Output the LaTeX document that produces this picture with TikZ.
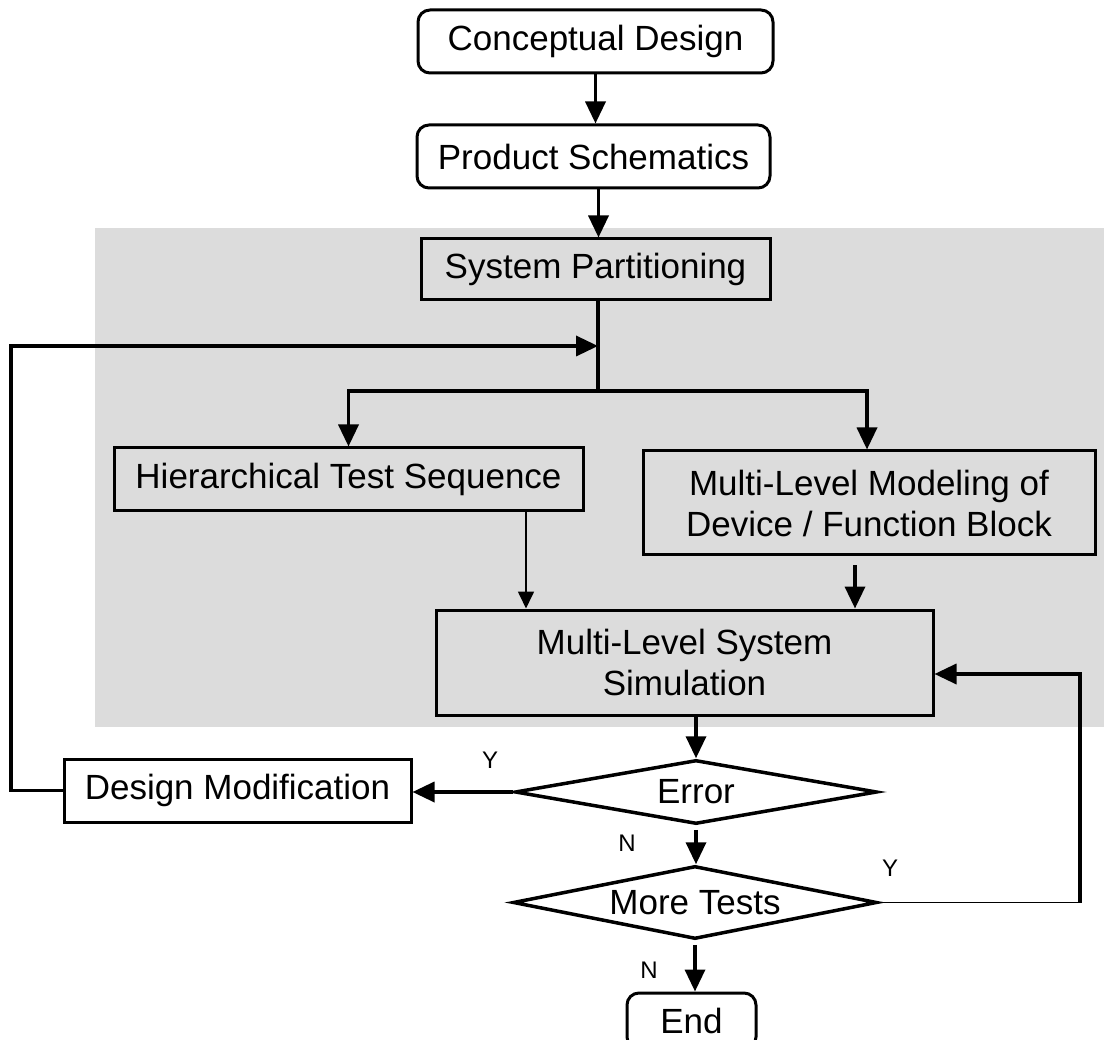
\documentclass[tikz,border=0pt]{standalone}
\usepackage{fontspec}
\setmainfont{Liberation Sans}
\usetikzlibrary{arrows.meta,shapes.geometric}
\definecolor{bg}{HTML}{DCDCDC}
\begin{document}
\begin{tikzpicture}[x=1pt,y=-1pt,
  box/.style={draw,line width=3pt,inner sep=0pt,font=\fontsize{35}{41}\selectfont,align=center},
  rbox/.style={box,rounded corners=12pt,fill=white},
  wbox/.style={box,fill=white},
  gbox/.style={box,fill=bg},
  dia/.style={diamond,draw,line width=3.5pt,fill=white,inner sep=0pt,font=\fontsize{35}{41}\selectfont},
  arr/.style={line width=3.5pt,-{Triangle[length=22pt,width=20pt]}},
  tarr/.style={line width=1.7pt,-{Triangle[length=17pt,width=16pt]}},
  thk/.style={line width=3.5pt},
  thn/.style={line width=1.7pt},
  lbl/.style={font=\fontsize{24}{28}\selectfont,inner sep=0pt}]

\useasboundingbox (0,0) rectangle (1104,1040);
\fill[bg] (95,228) rectangle (1104,727);

\node[rbox,minimum width=355pt,minimum height=63pt] (cd) at (595.5,41.5) {Conceptual Design};
\node[rbox,minimum width=353pt,minimum height=63pt] (ps) at (593.5,156.5) {Product Schematics};
\node[gbox,minimum width=349pt,minimum height=61pt] (sp) at (595.5,269.5) {System Partitioning};
\node[gbox,minimum width=469pt,minimum height=63pt] (hts) at (348.5,479.5) {Hierarchical Test Sequence};
\node[gbox,minimum width=452pt,minimum height=104pt] (mlm) at (869,503) {Multi-Level Modeling of\\Device / Function Block};
\node[gbox,minimum width=497pt,minimum height=105pt] (mls) at (684.5,662.5) {Multi-Level System\\Simulation};
\node[wbox,minimum width=347pt,minimum height=63pt] (dm) at (237.5,790.5) {Design Modification};
\node[dia,minimum width=362pt,minimum height=64pt,aspect=5.66] (err) at (696,792) {Error};
\node[dia,minimum width=364pt,minimum height=73pt,aspect=4.99] (mt) at (695,902.5) {More Tests};
\node[rbox,minimum width=129pt,minimum height=56pt] (end) at (691.5,1021) {End};

\coordinate (br) at (598,391);
\coordinate (fb) at (598,346);
\coordinate (fbc) at (11,346);
\coordinate (rc) at (1080,902.5);

\draw[arr] (cd.south) -- (cd.south |- ps.north);
\draw[arr] ([xshift=3pt]sp.north |- ps.south) -- ([xshift=3pt]sp.north);
\draw[thk] ([xshift=2.5pt]sp.south) -- (br);
\draw[arr] (br) -| (hts.north);
\draw[arr] (br) -| ([xshift=-2pt]mlm.north);
\draw[arr] (dm.west) -- (dm.west -| fbc) -- (fbc) -- (fb);
\draw[tarr] ([xshift=177.5pt]hts.south) -- ([xshift=177.5pt]hts.south |- mls.north);
\draw[arr] ([xshift=-14pt,yshift=-9pt]mlm.south) -- ([xshift=-14pt]mlm.south |- mls.north);
\draw[arr] (mls.south -| err.north) -- (err.north);
\draw[arr] (err.west) -- (dm.east |- err.west);
\draw[arr] ([yshift=-4pt]err.south) -- (err.south |- mt.north);
\draw[arr] ([yshift=-4pt]mt.south) -- (mt.south |- end.north);
\draw[thn] (mt.east) -- (rc);
\draw[arr] (rc) |- ([yshift=-11.5pt]mls.east);

\node[lbl] (y1) at (490,760) {Y};
\node[lbl] (n1) at (627,843) {N};
\node[lbl] (y2) at (890,868) {Y};
\node[lbl] (n2) at (649,970) {N};
\end{tikzpicture}
\end{document}
